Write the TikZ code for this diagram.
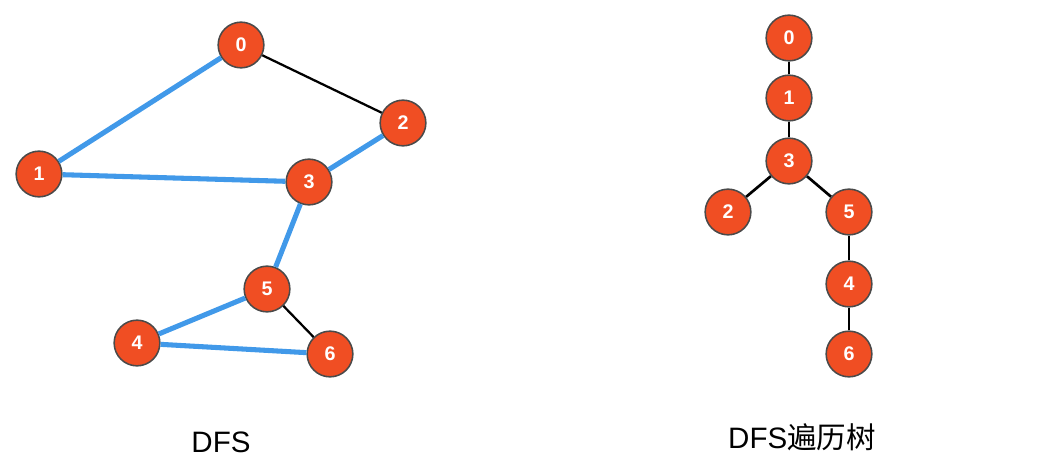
\documentclass[tikz,border=0pt]{standalone}
\usepackage{fontspec}
\setmainfont{Liberation Sans}
\newfontfamily\cjk{Noto Sans CJK SC}
\usepackage{tikz}
\usetikzlibrary{positioning}

\definecolor{nodered}{HTML}{F04E23}
\definecolor{edgeblue}{HTML}{4199E9}
\definecolor{rimgray}{HTML}{4A4A4A}

\begin{document}
\begin{tikzpicture}[x=0.025cm,y=-0.025cm]
				\tikzstyle{Vertex} 	= [circle, draw=rimgray, line width=1.1pt, fill=nodered, text=white, minimum size=32.5pt, inner sep=0pt, font=\fontsize{14}{14}\selectfont\bfseries]
				\tikzstyle{Tree}	= [line width=1.9pt, black]
				\tikzstyle{NT}		= [line width=1.6pt, black]
				\tikzstyle{DT}		= [line width=3.6pt, edgeblue]
				\tikzstyle{Caption}	= [font=\fontsize{21}{21}\selectfont]

				\useasboundingbox (0,0) rectangle (1051,472);

				% graph
				\node (g0) at (241,45) [Vertex] {0};
				\node (g1) at (39,174) [Vertex] {1};
				\node (g2) at (403,123) [Vertex] {2};
				\node (g3) at (309,182) [Vertex] {3};
				\node (g5) at (267,289) [Vertex] {5};
				\node (g4) at (137,343) [Vertex] {4};
				\node (g6) at (330,354) [Vertex] {6};

				% tree
				\node (t0) at (789,38) [Vertex] {0};
				\node (t1) at (789,98) [Vertex] {1};
				\node (t3) at (789,161) [Vertex] {3};
				\node (t2) at (728,212) [Vertex] {2};
				\node (t5) at (849,212) [Vertex] {5};
				\node (t4) at (849,284) [Vertex] {4};
				\node (t6) at (849,354) [Vertex] {6};

				\draw[DT] (g0) -- (g1);
				\draw[DT] (g1) -- (g3);
				\draw[DT] (g3) -- (g2);
				\draw[DT] (g3) -- (g5);
				\draw[DT] (g5) -- (g4);
				\draw[DT] (g4) -- (g6);
				\draw[NT] (g0) -- (g2);
				\draw[NT] (g5) -- (g6);

				\draw[Tree] (t0) -- (t1);
				\draw[Tree] (t1) -- (t3);
				\draw[Tree] (t3) -- (t2);
				\draw[Tree] (t3) -- (t5);
				\draw[Tree] (t5) -- (t4);
				\draw[Tree] (t4) -- (t6);

				\node (c1) at (221,442) [Caption] {DFS};
				\node (c2) at (802,437) [Caption] {DFS{\cjk 遍历树}};

			\end{tikzpicture}
\end{document}
